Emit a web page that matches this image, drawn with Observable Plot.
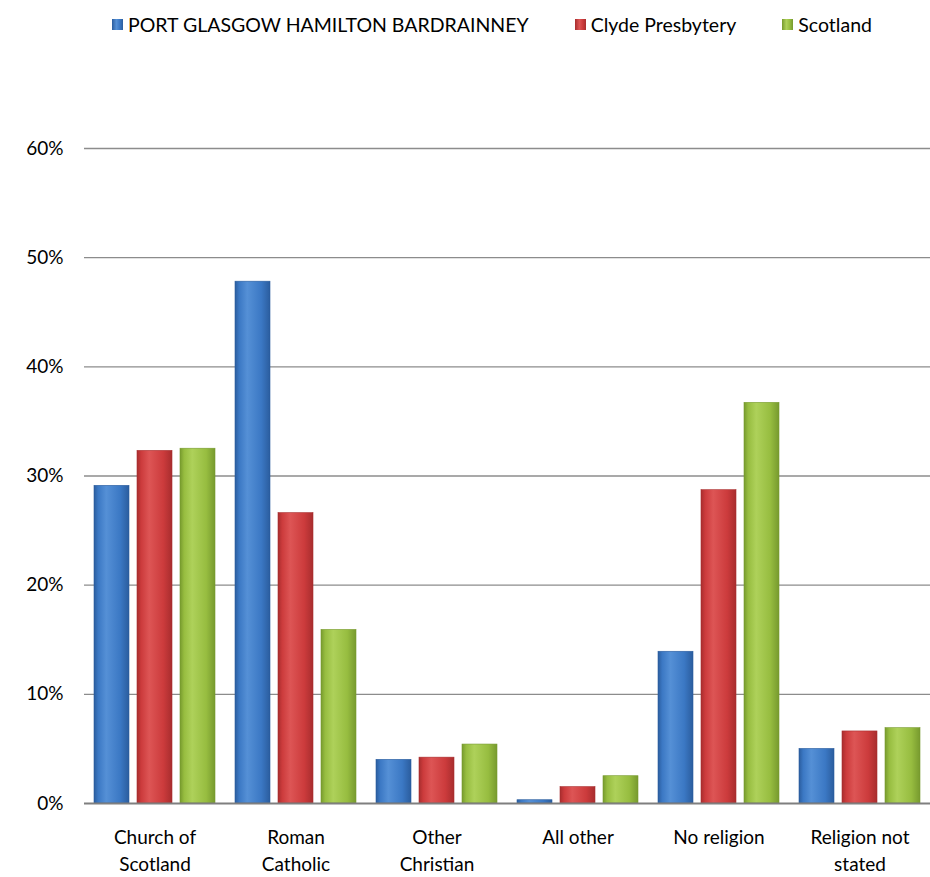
<!DOCTYPE html>
<html>
<head>
<meta charset="utf-8">
<script src="https://cdn.jsdelivr.net/npm/d3@7"></script>
<script src="https://cdn.jsdelivr.net/npm/@observablehq/plot@0.6"></script>
<style>
  html, body { margin: 0; padding: 0; background: #fff; }
  body { width: 930px; height: 877px; overflow: hidden; font-family: Lato, "Open Sans", sans-serif; }
  #legend { height: 48px; display: flex; align-items: center; justify-content: center; padding-left: 54px; box-sizing: border-box; font-size: 19.5px; color: #000; }
  .item { display: flex; align-items: center; margin-right: 46px; }
  .item:last-child { margin-right: 0; }
  .sw { width: 11px; height: 11px; margin-right: 5px; }
</style>
</head>
<body>
<div id="legend"></div>
<div id="chart"></div>
<script>
const categories = ["Church of Scotland", "Roman Catholic", "Other Christian", "All other", "No religion", "Religion not stated"];
const tickLabels = ["Church of\nScotland", "Roman\nCatholic", "Other\nChristian", "All other", "No religion", "Religion not\nstated"];
const series = ["PORT GLASGOW HAMILTON BARDRAINNEY", "Clyde Presbytery", "Scotland"];
const portGlasgow = [29.1, 47.8, 4.0, 0.3, 13.9, 5.0];
const clydePresbytery = [32.3, 26.6, 4.2, 1.5, 28.7, 6.6];
const scotland = [32.5, 15.9, 5.4, 2.5, 36.7, 6.9];
const yTicks = [0, 10, 20, 30, 40, 50, 60];

// colour stops for each series: [edge dark, mid, highlight]
const palette = [
  ["#2b5d9e", "#3b78c4", "#5590d6"],
  ["#a82d2e", "#cc3b3c", "#dd5555"],
  ["#779a2e", "#97bd40", "#aed15a"]
];

const valuesBySeries = [portGlasgow, clydePresbytery, scotland];
const data = [];
series.forEach((s, si) => categories.forEach((c, ci) => data.push({category: c, series: s, value: valuesBySeries[si][ci], si})));

// legend
const legend = d3.select("#legend");
series.forEach((s, i) => {
  const it = legend.append("div").attr("class", "item");
  it.append("div").attr("class", "sw")
    .style("background", `linear-gradient(to right, ${palette[i][0]}, ${palette[i][2]} 40%, ${palette[i][1]} 70%, ${palette[i][0]})`);
  it.append("span").text(s);
});

function defs() {
  const d = d3.create("svg:defs");
  palette.forEach((p, i) => {
    const g = d.append("linearGradient").attr("id", "grad" + i).attr("x1", 0).attr("x2", 1).attr("y1", 0).attr("y2", 0);
    g.append("stop").attr("offset", "0%").attr("stop-color", p[0]);
    g.append("stop").attr("offset", "12%").attr("stop-color", p[1]);
    g.append("stop").attr("offset", "35%").attr("stop-color", p[2]);
    g.append("stop").attr("offset", "75%").attr("stop-color", p[1]);
    g.append("stop").attr("offset", "100%").attr("stop-color", p[0]);
  });
  return d.node();
}

const labelOf = new Map(categories.map((c, i) => [c, tickLabels[i]]));

const chart = Plot.plot({
  width: 930,
  height: 829,
  marginLeft: 83,
  marginRight: 0,
  marginTop: 100,
  marginBottom: 74,
  style: {fontFamily: "Lato, 'Open Sans', sans-serif", fontSize: "19px", color: "#000", background: "#fff"},
  fx: {domain: categories, padding: 0, label: null, axis: null},
  x: {domain: series, axis: null, paddingInner: 0.186, paddingOuter: 0.23},
  y: {domain: [0, 60], axis: null},
  marks: [
    defs,
    Plot.ruleY(yTicks.slice(1), {stroke: "#8c8c8c", strokeWidth: 1.3}),
    ...series.map((s, i) => Plot.barY(data.filter(d => d.si === i), {
      fx: "category", x: "series", y: "value",
      fill: `url(#grad${i})`, stroke: palette[i][0], strokeWidth: 0.6, inset: 0
    })),
    Plot.ruleY([0], {stroke: "#7f7f7f", strokeWidth: 2}),
    Plot.axisY(yTicks, {anchor: "left", tickSize: 0, tickPadding: 21, tickFormat: d => d + "%", label: null, fontSize: 19}),
    Plot.axisFx({anchor: "bottom", tickSize: 0, tickPadding: 22, tickFormat: d => labelOf.get(d), label: null, fontSize: 19, lineHeight: 1.4})
  ]
});
document.getElementById("chart").appendChild(chart);
</script>
</body>
</html>
